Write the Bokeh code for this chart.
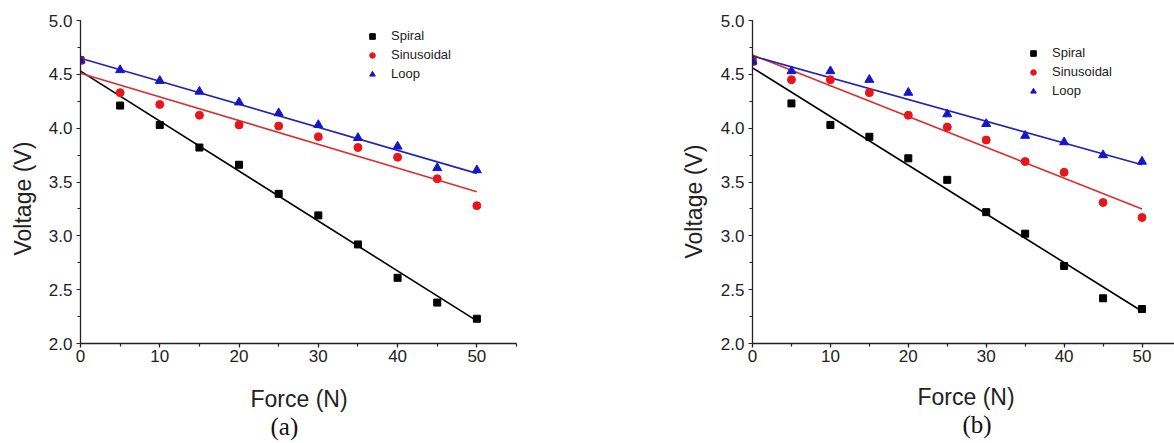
import numpy as np
from bokeh.plotting import figure
from bokeh.layouts import row
from bokeh.models import (Legend, LegendItem, Title, SingleIntervalTicker,
                          PrintfTickFormatter, Range1d)
from bokeh.embed import file_html
from bokeh.resources import INLINE

# ---------------- data ----------------
force = [0, 5, 10, 15, 20, 25, 30, 35, 40, 45, 50]

# panel (a)
a_spiral = [4.63, 4.21, 4.03, 3.82, 3.66, 3.39, 3.19, 2.92, 2.61, 2.38, 2.23]
a_sinus = [4.63, 4.33, 4.22, 4.12, 4.03, 4.02, 3.92, 3.82, 3.73, 3.53, 3.28]
a_loop = [4.63, 4.54, 4.44, 4.34, 4.24, 4.14, 4.03, 3.91, 3.83, 3.63, 3.61]

# panel (b)
b_spiral = [4.62, 4.23, 4.03, 3.92, 3.72, 3.52, 3.22, 3.02, 2.72, 2.42, 2.32]
b_sinus = [4.62, 4.45, 4.45, 4.33, 4.12, 4.01, 3.89, 3.69, 3.59, 3.31, 3.17]
b_loop = [4.62, 4.53, 4.53, 4.45, 4.33, 4.13, 4.04, 3.93, 3.87, 3.75, 3.69]

# linear fit lines (values read at F = 0 and F = 50)
fit_force = [0, 50]
a_fit_spiral = [4.53, 2.21]
a_fit_sinus = [4.51, 3.41]
a_fit_loop = [4.65, 3.58]
b_fit_spiral = [4.56, 2.30]
b_fit_sinus = [4.68, 3.25]
b_fit_loop = [4.67, 3.66]

series_names = ["Spiral", "Sinusoidal", "Loop"]
x_title = "Force (N)"
y_title = "Voltage (V)"

SANS = "Liberation Sans"
SERIF = "Liberation Serif"
TXT = "#222222"
MARKERS = ["square", "circle", "triangle"]
MCOL = ["#000000", "#e8161c", "#1616c8"]
LCOL = ["#000000", "#d83030", "#2424b4"]
MSIZE = [7, 8, 9]


def make_panel(width, height, mb_left, mb_right, mb_top, mb_bottom, x_end,
               ys, fits, legend_loc, y_gap, y_off, x_off, x_so, tag, tag_off,
               tag_so):
    p = figure(width=width, height=height, x_range=Range1d(0, x_end),
               y_range=Range1d(2.0, 5.0), output_backend="svg",
               toolbar_location=None, min_border_left=mb_left,
               min_border_right=mb_right, min_border_top=mb_top,
               min_border_bottom=mb_bottom)
    p.grid.visible = False
    p.outline_line_color = None
    p.background_fill_color = "white"
    p.border_fill_color = "white"

    p.xaxis.ticker = SingleIntervalTicker(interval=10, num_minor_ticks=2)
    p.yaxis.ticker = SingleIntervalTicker(interval=0.5, num_minor_ticks=2)
    p.yaxis.formatter = PrintfTickFormatter(format="%.1f")
    for ax in (p.xaxis, p.yaxis):
        ax.axis_line_color = TXT
        ax.axis_line_width = 1.3
        ax.major_tick_line_color = TXT
        ax.minor_tick_line_color = TXT
        ax.major_tick_line_width = 1.2
        ax.minor_tick_line_width = 1.2
        ax.major_tick_out = 4
        ax.major_tick_in = 0
        ax.minor_tick_out = 3
        ax.minor_tick_in = 0
        ax.major_label_text_font = SANS
        ax.major_label_text_font_size = "17px"
        ax.major_label_text_color = TXT
    p.xaxis.major_label_standoff = 2
    p.yaxis.major_label_standoff = 4
    # blank spacer label: keeps the y title at its distance from the ticks
    p.yaxis.axis_label = " "
    p.yaxis.axis_label_text_font_size = "1px"
    p.yaxis.axis_label_standoff = y_gap

    items = []
    for i in range(3):
        p.line(fit_force, fits[i], line_color=LCOL[i], line_width=1.6)
    for i in range(3):
        r = p.scatter(force, ys[i], marker=MARKERS[i], size=MSIZE[i],
                      fill_color=MCOL[i], line_color=MCOL[i])
        items.append(LegendItem(label=series_names[i], renderers=[r]))

    legend = Legend(items=items, location=legend_loc, orientation="vertical",
                    border_line_color=None, background_fill_alpha=0,
                    padding=0, margin=0, spacing=4, glyph_width=14,
                    glyph_height=14, label_height=14, label_standoff=12,
                    label_text_font=SANS, label_text_font_size="13px",
                    label_text_color=TXT)
    p.add_layout(legend)

    p.add_layout(Title(text=y_title, align="left", offset=y_off,
                       standoff=0, text_font=SANS, text_font_size="23px",
                       text_font_style="normal", text_color=TXT), "left")
    p.add_layout(Title(text=x_title, align="left", offset=x_off,
                       standoff=x_so, text_font=SANS, text_font_size="23px",
                       text_font_style="normal", text_color=TXT), "below")
    p.add_layout(Title(text=tag, align="left", offset=tag_off,
                       standoff=tag_so, vertical_align="top",
                       text_font=SERIF, text_font_size="25px",
                       text_font_style="normal", text_color="#111111"),
                 "below")
    return p


pa = make_panel(600, 443, 80, 84, 12, 100, 55,
                [a_spiral, a_sinus, a_loop],
                [a_fit_spiral, a_fit_sinus, a_fit_loop],
                (285, 262), 6, 88, 170, 38, "(a)", 190, -36)

pb = make_panel(574, 443, 152, 0, 20, 98, 54.17,
                [b_spiral, b_sinus, b_loop],
                [b_fit_spiral, b_fit_sinus, b_fit_loop],
                (274, 245), 7, 85, 165, 34, "(b)", 210, -32)

layout = row(pa, pb)
open("out.html", "w").write(file_html(layout, INLINE))
